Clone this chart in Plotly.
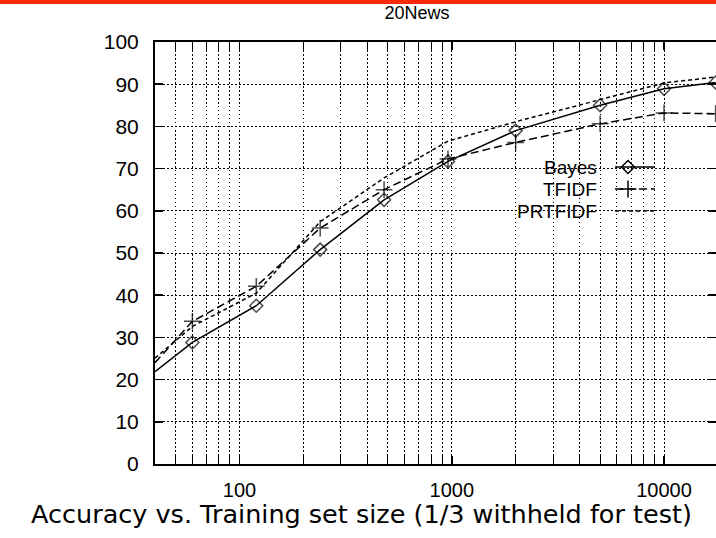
import math
import plotly.graph_objects as go

# ---- data ----
train_size = [40, 60, 120, 240, 480, 960, 2000, 5000, 10000, 17500]
bayes   = [21.9, 28.8, 37.5, 50.8, 62.6, 71.7, 79.0, 85.0, 88.9, 90.4]
tfidf   = [24.0, 33.8, 42.1, 55.9, 65.0, 72.3, 76.2, 80.6, 83.2, 83.0]
prtfidf = [25.1, 32.6, 40.5, 57.4, 67.8, 76.5, 81.1, 86.3, 90.3, 91.7]
series_names = ["Bayes", "TFIDF", "PRTFIDF"]
x_tick_vals = [100, 1000, 10000]
x_tick_text = ["100", "1000", "10000"]
x_minor_vals = [m * d for d in (10, 100, 1000) for m in range(2, 10)]
x_minor_vals = [v for v in x_minor_vals if v >= 40]
y_tick_vals = list(range(0, 101, 10))
title_text = "20News"
caption_text = "Accuracy vs. Training set size (1/3 withheld for test)"

# ---- layout constants (pixels) ----
W, H = 716, 538
L, R, T, B = 155, 0, 42, 74
PW, PH = W - L - R, H - T - B
x_range = [math.log10(40), math.log10(17570)]
FONT = "Liberation Sans, Arial, sans-serif"
GRID_DASH = "1.5px,2.5px"

fig = go.Figure()

# first point sits on the left border -> marker hidden like gnuplot
fig.add_trace(go.Scatter(
    x=train_size, y=bayes, name=series_names[0], mode="lines+markers",
    line=dict(color="black", width=1.5),
    marker=dict(symbol="diamond-open", size=[0] + [10] * (len(train_size) - 1),
                color="black", line=dict(width=1.5, color="black")),
    showlegend=False, cliponaxis=True))
fig.add_trace(go.Scatter(
    x=train_size, y=tfidf, name=series_names[1], mode="lines+markers",
    line=dict(color="black", width=1.5, dash="8px,4px"),
    marker=dict(symbol="cross-thin-open", size=[0] + [12] * (len(train_size) - 1),
                color="black", line=dict(width=1.5, color="black")),
    showlegend=False, cliponaxis=True))
fig.add_trace(go.Scatter(
    x=train_size, y=prtfidf, name=series_names[2], mode="lines",
    line=dict(color="black", width=1.5, dash="4px,3px"),
    showlegend=False, cliponaxis=True))

# ---- manual gnuplot-style legend on a pixel overlay axis ----
leg_rows = [167, 189, 211]
leg_x0, leg_x1, leg_mx, leg_tx = 615, 655, 628, 599
styles = [
    dict(line=dict(color="black", width=1.5), marker=dict(symbol="diamond-open", size=10, color="black", line=dict(width=1.5, color="black"))),
    dict(line=dict(color="black", width=1.5, dash="8px,4px"), marker=dict(symbol="cross-thin-open", size=12, color="black", line=dict(width=1.5, color="black"))),
    dict(line=dict(color="black", width=1.5, dash="4px,3px")),
]
for name, yy, st in zip(series_names, leg_rows, styles):
    fig.add_trace(go.Scatter(x=[leg_x0, leg_x1], y=[yy, yy], xaxis="x2", yaxis="y2",
                             mode="lines", line=st["line"], showlegend=False, hoverinfo="skip"))
    if "marker" in st:
        fig.add_trace(go.Scatter(x=[leg_mx], y=[yy], xaxis="x2", yaxis="y2", mode="markers",
                                 marker=st["marker"], showlegend=False, hoverinfo="skip"))
    fig.add_annotation(x=leg_tx, y=yy, xref="x2", yref="y2", text=name, showarrow=False,
                       xanchor="right", yanchor="middle", font=dict(family=FONT, size=19, color="black"))

# ---- red bar at very top ----
fig.add_shape(type="rect", xref="paper", yref="paper",
              x0=-L / PW, x1=1.0, y0=(PH + T - 4) / PH, y1=(PH + T) / PH,
              fillcolor="#f8290a", line=dict(width=0), layer="above")

# ---- caption ----
fig.add_annotation(x=(361.5 - L) / PW, y=(PH + T - 514) / PH, xref="paper", yref="paper",
                   text=caption_text, showarrow=False, xanchor="center", yanchor="middle",
                   font=dict(family="DejaVu Sans, sans-serif", size=25.5, color="black"))

fig.update_layout(
    width=W, height=H,
    margin=dict(l=L, r=R, t=T, b=B, pad=0),
    paper_bgcolor="white", plot_bgcolor="white",
    title=dict(text=title_text, x=(417 - L) / PW, xref="paper", xanchor="center",
               y=1 - 13 / H, yref="container", yanchor="middle",
               font=dict(family=FONT, size=18, color="black")),
    xaxis=dict(type="log", range=x_range, tickmode="array", tickvals=x_tick_vals, ticktext=x_tick_text,
               ticks="inside", ticklen=8, tickwidth=1.5, tickcolor="black",
               showline=True, linecolor="black", linewidth=2, mirror="allticks",
               showgrid=True, gridcolor="black", gridwidth=1, griddash=GRID_DASH,
               minor=dict(tickmode="array", tickvals=x_minor_vals, ticks="inside", ticklen=4,
                          tickwidth=1, tickcolor="black", showgrid=True, gridcolor="black",
                          gridwidth=1, griddash=GRID_DASH),
               tickfont=dict(family=FONT, size=20, color="black"), ticklabelstandoff=7,
               zeroline=False, fixedrange=True),
    yaxis=dict(range=[0, 100], tickmode="array", tickvals=y_tick_vals,
               ticks="inside", ticklen=8, tickwidth=1.5, tickcolor="black",
               showline=True, linecolor="black", linewidth=2, mirror=False,
               showgrid=True, gridcolor="black", gridwidth=1, griddash=GRID_DASH,
               tickfont=dict(family=FONT, size=21, color="black"), ticklabelstandoff=10,
               zeroline=False, fixedrange=True),
    # right-hand mirrored y ticks without a border line (border lies just off the image)
    yaxis3=dict(overlaying="y", side="right", range=[0, 100], tickmode="array", tickvals=y_tick_vals,
                ticks="inside", ticklen=8, tickwidth=1.5, tickcolor="black", showticklabels=False,
                showline=False, showgrid=False, zeroline=False, fixedrange=True),
    xaxis2=dict(overlaying="x", range=[L, W], visible=False, fixedrange=True),
    yaxis2=dict(overlaying="y", range=[T + PH, T], visible=False, fixedrange=True),
)

# invisible carrier so the right-hand tick axis is rendered
fig.add_trace(go.Scatter(x=[train_size[0]], y=[bayes[0]], yaxis="y3", mode="markers",
                         marker=dict(size=0, opacity=0), showlegend=False, hoverinfo="skip"))

fig.write_html("out.html", config={"displayModeBar": False, "staticPlot": True},
               post_script="document.body.style.margin='0px';document.body.style.overflow='hidden';")
